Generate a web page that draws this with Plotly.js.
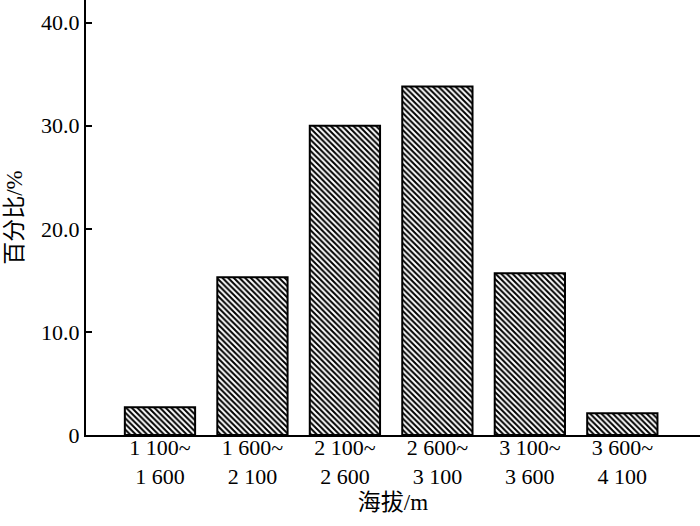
<!DOCTYPE html>
<html>
<head>
<meta charset="utf-8">
<script src="https://cdn.plot.ly/plotly-3.0.1.min.js"></script>
<style>html,body{margin:0;padding:0;background:#fff;}#chart{width:700px;height:526px;}</style>
</head>
<body>
<div id="chart"></div>
<script>
const categories = ["1 100~<br>1 600", "1 600~<br>2 100", "2 100~<br>2 600", "2 600~<br>3 100", "3 100~<br>3 600", "3 600~<br>4 100"];
const percentages = [2.7, 15.3, 30.0, 33.8, 15.7, 2.1];
const yTickVals = [0, 10, 20, 30, 40];
const yTickText = ["0", "10.0", "20.0", "30.0", "40.0"];

const font = "Liberation Serif, Noto Sans CJK SC, serif";

Plotly.newPlot("chart", [{
  type: "bar",
  x: categories,
  y: percentages,
  width: 0.76,
  marker: {
    color: "white",
    line: {color: "black", width: 2},
    pattern: {shape: "\\", fgcolor: "black", bgcolor: "white", size: 4, solidity: 0.5}
  },
  hoverinfo: "none"
}], {
  width: 700, height: 526,
  margin: {l: 86, r: 0, t: 0, b: 91},
  paper_bgcolor: "white", plot_bgcolor: "white",
  showlegend: false,
  font: {family: font, color: "black", size: 22},
  xaxis: {
    type: "category",
    range: [-0.8, 5.84],
    showline: true, linecolor: "black", linewidth: 2,
    ticks: "", showgrid: false, zeroline: false,
    tickfont: {size: 22, family: font, color: "black"},
    ticklabelstandoff: -8,
    title: {text: "海拔/m", font: {size: 23, family: font, color: "black"}, standoff: 6}
  },
  yaxis: {
    range: [0, 42.2],
    tickvals: yTickVals, ticktext: yTickText,
    showline: true, linecolor: "black", linewidth: 2,
    ticks: "inside", ticklen: 6, tickwidth: 2, tickcolor: "black",
    showgrid: false, zeroline: false,
    tickfont: {size: 22, family: font, color: "black"},
    title: {text: "百分比/%", font: {size: 23, family: font, color: "black"}, standoff: 12}
  }
}, {staticPlot: true});
</script>
</body>
</html>
